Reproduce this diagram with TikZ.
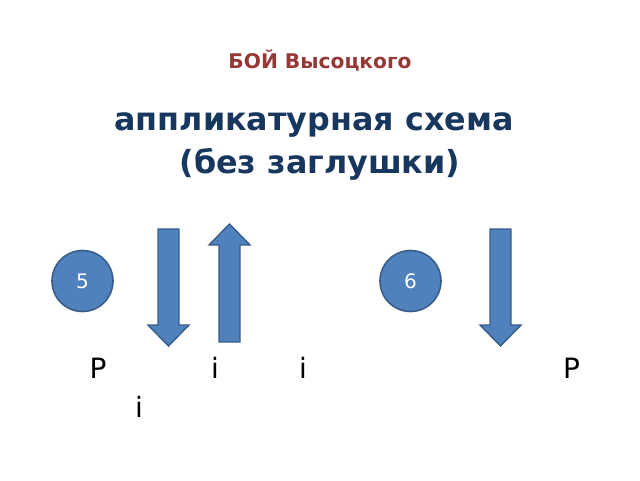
\documentclass[tikz,border=0pt]{standalone}
\usepackage{fontspec}
\setmainfont{DejaVu Sans}
\definecolor{titlered}{HTML}{953735}
\definecolor{headblue}{HTML}{17375E}
\definecolor{accfill}{HTML}{4F81BD}
\definecolor{accline}{HTML}{385D8A}
\begin{document}
\begin{tikzpicture}[x=1pt,y=-1pt,
  numcircle/.style={circle,fill=accfill,draw=accline,line width=1.6pt,minimum size=61pt,inner sep=0pt,text=white,font=\fontsize{20}{22}\selectfont},
  blockarrow/.style={fill=accfill,draw=accline,line width=1.4pt,line join=miter},
  finger/.style={anchor=base,inner sep=0pt,font=\fontsize{28}{30}\selectfont,text=black}]
\useasboundingbox (0,0) rectangle (640,480);
\node[anchor=base,inner sep=0pt,text=titlered,font=\bfseries\fontsize{20.2}{23}\selectfont] (title) at (320,68) {БОЙ Высоцкого};
\node[anchor=base,inner sep=0pt,text=headblue,font=\bfseries\fontsize{31.8}{36}\selectfont] (head1) at (314,130) {аппликатурная схема};
\node[anchor=base,inner sep=0pt,text=headblue,font=\bfseries\fontsize{31.8}{36}\selectfont] (head2) at (320,173) {(без заглушки)};
\node[numcircle] (c5) at (82.5,281) {5};
\node[numcircle] (c6) at (410.5,281) {6};
% down arrow 1
\draw[blockarrow] (158,229) -- (179,229) -- (179,325) -- (189,325) -- (168.5,346) -- (148,325) -- (158,325) -- cycle;
% up arrow
\draw[blockarrow] (219,342) -- (240,342) -- (240,245) -- (250,245) -- (229.5,224) -- (209,245) -- (219,245) -- cycle;
% down arrow 2
\draw[blockarrow] (490,229) -- (511,229) -- (511,325) -- (521,325) -- (500.5,346) -- (480,325) -- (490,325) -- cycle;
\node[finger] (p1) at (98,378) {P};
\node[finger] (i1) at (215,378) {i};
\node[finger] (i2) at (303,378) {i};
\node[finger] (p2) at (571.5,378) {P};
\node[finger] (i3) at (139,417) {i};
\end{tikzpicture}
\end{document}
